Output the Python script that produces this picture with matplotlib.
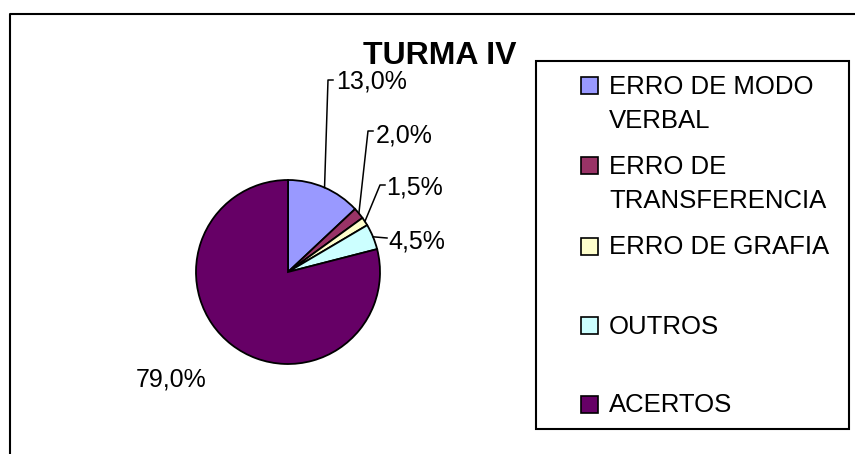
import matplotlib
matplotlib.use('Agg')
import matplotlib.pyplot as plt
from matplotlib.patches import Rectangle
import numpy as np

plt.rcParams['font.family'] = ['Liberation Sans', 'DejaVu Sans']

W, H = 855, 454

title = 'TURMA IV'
categories = ['ERRO DE MODO\nVERBAL', 'ERRO DE\nTRANSFERENCIA', 'ERRO DE GRAFIA', 'OUTROS', 'ACERTOS']
values = [13.0, 2.0, 1.5, 4.5, 79.0]
colors = ['#9999FF', '#993366', '#FFFFCC', '#CCFFFF', '#660066']


def py(y):
	# pixel row (from top) -> data y
	return H - y


fig = plt.figure(figsize=(W / 100, H / 100), dpi=100)
ax = fig.add_axes([0, 0, 1, 1])

wedges, _ = ax.pie(values, colors=colors, startangle=90, counterclock=False,
				   center=(288, py(272)), radius=92,
				   wedgeprops=dict(edgecolor='black', linewidth=1.3))
ax.set_xlim(0, W)
ax.set_ylim(0, H)
ax.set_aspect('auto')
ax.axis('off')

# ------ data labels with leader lines --------------
# (elbow point, tick end, text x, text centre y) in pixels, None = no line
label_pos = [
	((328, 80), (333, 80), 336, 79),
	((368, 131), (373, 131), 376, 133),
	((380, 185), (385, 185), 386, 185),
	(None, (387, 238), 388, 239),
	(None, None, 171, 378),
]

for w, v, (elbow, tick, tx, ty) in zip(wedges, values, label_pos):
	txt = ('%.1f%%' % v).replace('.', ',')
	if tick is not None:
		mid = np.deg2rad((w.theta1 + w.theta2) / 2)
		ex = w.center[0] + w.r * np.cos(mid)
		ey = w.center[1] + w.r * np.sin(mid)
		xs, ys = [ex], [ey]
		if elbow is not None:
			xs.append(elbow[0])
			ys.append(py(elbow[1]))
		xs.append(tick[0])
		ys.append(py(tick[1]))
		ax.plot(xs, ys, color='black', lw=1.1)
		ax.text(tx, py(ty + 9), txt, fontsize=18, ha='left', va='baseline')
	else:
		ax.text(tx, py(ty + 9), txt, fontsize=18, ha='center', va='baseline')

# ------ title ---------------------------------------
ax.text(440, py(52 + 11.5), title, fontsize=23, fontweight='bold',
		ha='center', va='baseline')

# ------ legend --------------------------------------
ax.add_patch(Rectangle((536, py(429)), 849 - 536, 429 - 61, fill=False,
					   edgecolor='black', lw=1.5))
entry_y = [85, 165, 246, 325, 404]
for lab, c, ey in zip(categories, colors, entry_y):
	ax.add_patch(Rectangle((580.5, py(ey + 8.5)), 17, 17, facecolor=c,
						   edgecolor='black', lw=1.2))
	for i, line in enumerate(lab.split('\n')):
		ax.text(609, py(ey + 35 * i + 8.5), line, fontsize=18.5,
				ha='left', va='baseline')

# ------ outer chart frame ---------------------------
ax.plot([9.5, 9.5, 870], [py(470), py(13.5), py(13.5)], color='black',
		lw=1.5, clip_on=False)

fig.savefig('out.png', dpi=100)
